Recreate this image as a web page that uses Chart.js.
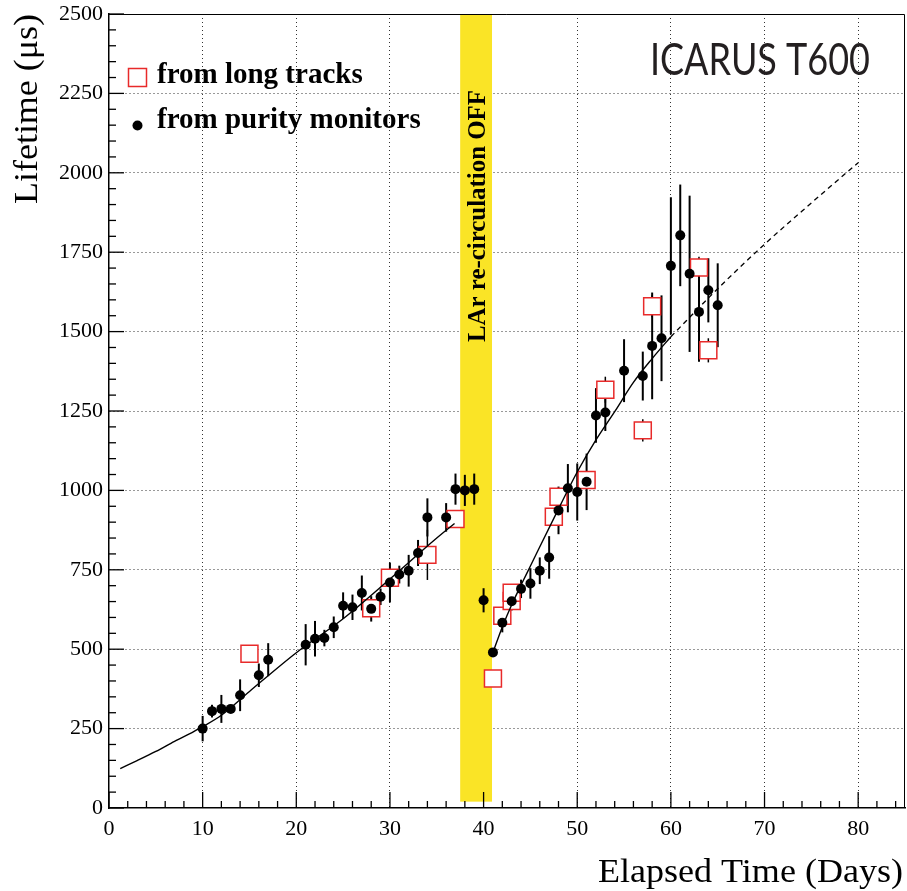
<!DOCTYPE html>
<html>
<head>
<meta charset="utf-8">
<script src="https://cdn.jsdelivr.net/npm/chart.js@4.4.1/dist/chart.umd.min.js"></script>
<style>
  html, body { margin: 0; padding: 0; background: #fff; }
  #wrap { width: 907px; height: 891px; position: relative; }
</style>
</head>
<body>
<div id="wrap"><canvas id="c" width="907" height="891"></canvas></div>
<script>
// Axis tick labels
const xTickLabels = [0, 10, 20, 30, 40, 50, 60, 70, 80];
const yTickLabels = [0, 250, 500, 750, 1000, 1250, 1500, 1750, 2000, 2250, 2500];

// Electron lifetime measured by the purity monitors (days, microseconds, error)
const purityDays = [10, 11, 12, 13, 14, 16, 17, 21, 22, 23, 24, 25, 26, 27, 28, 29, 30, 31, 32, 33, 34, 36, 37, 38, 39, 40,
  41, 42, 43, 44, 45, 46, 47, 48, 49, 50, 51, 52, 53, 55, 57, 58, 59, 60, 61, 62, 63, 64, 65];
const purityLifetime = [250, 305, 312, 312, 355, 418, 467, 514, 533, 535, 569, 637, 632, 677, 627, 665, 710, 735, 747, 803, 915, 915, 1004, 1000, 1004, 654,
  490, 583, 651, 690, 707, 747, 789, 937, 1007, 995, 1027, 1236, 1245, 1377, 1360, 1455, 1479, 1707, 1803, 1682, 1562, 1630, 1583];
const purityError = [40, 20, 44, 12, 50, 37, 52, 65, 56, 26, 34, 42, 40, 55, 40, 26, 63, 28, 50, 41, 60, 45, 49, 49, 49, 38,
  10, 30, 29, 29, 48, 42, 67, 75, 76, 90, 89, 86, 58, 99, 77, 168, 135, 216, 160, 246, 157, 101, 132];

// Electron lifetime measured from long muon tracks
const trackDays = [15, 28, 30, 34, 37, 41, 42, 43, 43, 47.5, 48, 51, 53, 57, 58, 63, 64];
const trackLifetime = [486, 629, 725, 797, 910, 408, 605, 652, 678, 917, 980, 1033, 1317, 1189, 1580, 1702, 1441];
const trackError = [15, 20, 20, 79, 20, 15, 20, 20, 20, 20, 20, 20, 41, 35, 35, 34, 38];

// Purification model curves: first run, second run, and extrapolation
const fitDaysA = [1.2, 3, 5, 7, 9, 10, 12, 15, 20, 25, 30, 35, 36.9];
const fitLifetimeA = [124, 149, 178, 210, 240, 256, 292, 367, 489, 596, 721, 850, 896];
const fitDaysB = [41, 42, 43, 44, 45, 47.5, 50, 52, 54, 56, 58, 60];
const fitLifetimeB = [490, 570, 640, 702, 762, 912, 1058, 1159, 1248, 1340, 1415, 1484];
const extDays = [60, 65, 70, 75, 80];
const extLifetime = [1484, 1635, 1775, 1905, 2032];

// Period with liquid argon re-circulation switched off (days) and band floor (us)
const recirculationOff = [37.5, 40.9];
const bandFloor = 20;

const RED = 'rgb(232,42,42)';
const SERIF = '"Liberation Serif", "Times New Roman", serif';

function toPoints(xs, ys) {
  return xs.map((x, i) => ({ x: x, y: ys[i] }));
}

// Draw a string stretched horizontally to a given width
function drawFitted(ctx, text, x, y, width, font, angle, align) {
  ctx.save();
  ctx.font = font;
  ctx.textBaseline = 'alphabetic';
  ctx.textAlign = 'left';
  const w = ctx.measureText(text).width;
  ctx.translate(x, y);
  if (angle) ctx.rotate(angle);
  ctx.scale(width / w, 1);
  ctx.fillText(text, align === 'center' ? -w / 2 : 0, 0);
  ctx.restore();
}

const overlay = {
  id: 'overlay',
  beforeDatasetsDraw(chart) {
    const { ctx, chartArea: a, scales: { x, y } } = chart;
    ctx.save();
    // re-circulation OFF band
    const x0 = x.getPixelForValue(recirculationOff[0]);
    const x1 = x.getPixelForValue(recirculationOff[1]);
    const yb = y.getPixelForValue(bandFloor);
    ctx.fillStyle = 'rgb(250,228,38)';
    ctx.fillRect(x0, a.top + 1, x1 - x0, yb - a.top - 1);
    ctx.fillStyle = '#000';
    drawFitted(ctx, 'LAr re-circulation OFF', (x0 + x1) / 2 + 8.5, 216, 252, 'bold 25px ' + SERIF, -Math.PI / 2, 'center');

    // vertical error bars
    const bars = (xs, ys, es) => {
      xs.forEach((d, i) => {
        const px = x.getPixelForValue(d);
        ctx.beginPath();
        ctx.moveTo(px, y.getPixelForValue(ys[i] - es[i]));
        ctx.lineTo(px, y.getPixelForValue(ys[i] + es[i]));
        ctx.stroke();
      });
    };
    ctx.strokeStyle = '#000';
    ctx.lineWidth = 2;
    bars(purityDays, purityLifetime, purityError);
    ctx.lineWidth = 1.5;
    bars(trackDays, trackLifetime, trackError);
    ctx.restore();
  },
  afterDatasetsDraw(chart) {
    const { ctx, chartArea: a, scales: { x, y } } = chart;
    ctx.save();
    ctx.strokeStyle = '#000';
    ctx.lineWidth = 1.3;
    // inward ticks on the left axis
    for (let v = 0; v <= y.max; v += 50) {
      const py = y.getPixelForValue(v);
      const len = v % 250 === 0 ? 15 : 7;
      ctx.beginPath();
      ctx.moveTo(a.left, py);
      ctx.lineTo(a.left + len, py);
      ctx.stroke();
    }
    // inward ticks on the bottom axis
    for (let d = 0; d <= x.max; d += 2) {
      const px = x.getPixelForValue(d);
      const len = d % 10 === 0 ? 16 : 7;
      ctx.beginPath();
      ctx.moveTo(px, a.bottom);
      ctx.lineTo(px, a.bottom - len);
      ctx.stroke();
    }
    // frame top and right
    ctx.lineWidth = 1;
    ctx.beginPath();
    ctx.moveTo(a.left, a.top + 0.5);
    ctx.lineTo(a.right - 0.5, a.top + 0.5);
    ctx.lineTo(a.right - 0.5, a.bottom);
    ctx.stroke();
    ctx.restore();
  },
  afterDraw(chart) {
    const { ctx } = chart;
    ctx.save();
    ctx.fillStyle = '#000';
    // axis titles
    drawFitted(ctx, 'Elapsed Time (Days)', 598, 882, 305, '34px ' + SERIF);
    drawFitted(ctx, 'Lifetime (\u03bcs)', 37, 204, 190, '34px ' + SERIF, -Math.PI / 2);

    // legend
    ctx.strokeStyle = RED;
    ctx.lineWidth = 1.5;
    ctx.strokeRect(128.5, 68.5, 18, 18);
    ctx.beginPath();
    ctx.arc(137.5, 125.5, 5, 0, Math.PI * 2);
    ctx.fill();
    ctx.font = 'bold 29px ' + SERIF;
    ctx.textAlign = 'left';
    ctx.textBaseline = 'alphabetic';
    ctx.fillText('from long tracks', 157, 83);
    ctx.fillText('from purity monitors', 157, 128);

    // detector label
    ctx.fillStyle = '#231f20';
    drawFitted(ctx, 'ICARUS T600', 650, 75, 220, '44px Lato, "Open Sans", sans-serif');
    ctx.restore();
  }
};

const gridStyle = { lineWidth: 1, drawTicks: false };
const noEdgeGrid = (c) => (c.tick && c.tick.value === 0 ? 'rgba(0,0,0,0)' : 'rgba(0,0,0,0.8)');

new Chart(document.getElementById('c'), {
  type: 'scatter',
  data: {
    datasets: [
      {
        label: 'from purity monitors',
        data: toPoints(purityDays, purityLifetime),
        pointStyle: 'circle', pointRadius: 5, pointHoverRadius: 5,
        backgroundColor: '#000', borderColor: '#000', borderWidth: 0,
        order: 0
      },
      {
        label: 'from long tracks',
        data: toPoints(trackDays, trackLifetime),
        pointStyle: 'rect', pointRadius: 12, pointHoverRadius: 12,
        backgroundColor: '#fff', borderColor: RED, borderWidth: 1.5,
        order: 4
      },
      {
        label: 'model, first run',
        data: toPoints(fitDaysA, fitLifetimeA),
        showLine: true, pointRadius: 0, borderColor: '#000', borderWidth: 1.4,
        cubicInterpolationMode: 'monotone', fill: false, order: 1
      },
      {
        label: 'model, second run',
        data: toPoints(fitDaysB, fitLifetimeB),
        showLine: true, pointRadius: 0, borderColor: '#000', borderWidth: 1.4,
        cubicInterpolationMode: 'monotone', fill: false, order: 2
      },
      {
        label: 'extrapolation',
        data: toPoints(extDays, extLifetime),
        showLine: true, pointRadius: 0, borderColor: '#000', borderWidth: 1.3,
        borderDash: [5, 4], cubicInterpolationMode: 'monotone', fill: false, order: 3
      }
    ]
  },
  options: {
    responsive: false,
    devicePixelRatio: 1,
    animation: false,
    events: [],
    layout: { autoPadding: false, padding: { top: 14, right: 2, left: 0, bottom: 0 } },
    plugins: { legend: { display: false }, tooltip: { enabled: false } },
    scales: {
      x: {
        type: 'linear', min: 0, max: 85,
        afterBuildTicks: (s) => { s.ticks = xTickLabels.map(v => ({ value: v })); },
        afterFit: (s) => { s.height = 83; s.paddingLeft = 0; s.paddingRight = 0; },
        grid: Object.assign({}, gridStyle, { color: noEdgeGrid }),
        border: { display: true, color: '#000', width: 1.5, dash: [1, 3] },
        ticks: {
          font: { family: 'Liberation Serif', size: 22 }, color: '#000',
          padding: 8, maxRotation: 0, autoSkip: false,
          callback: (v) => String(v)
        }
      },
      y: {
        type: 'linear', min: 0, max: 2500,
        afterBuildTicks: (s) => { s.ticks = yTickLabels.map(v => ({ value: v })); },
        afterFit: (s) => { s.width = 109; s.paddingTop = 0; s.paddingBottom = 0; },
        grid: Object.assign({}, gridStyle, { color: noEdgeGrid }),
        border: { display: true, color: '#000', width: 1.5, dash: [1, 3] },
        ticks: {
          font: { family: 'Liberation Serif', size: 22 }, color: '#000',
          padding: 6, autoSkip: false,
          callback: (v) => String(v)
        }
      }
    }
  },
  plugins: [overlay]
});
</script>
</body>
</html>
